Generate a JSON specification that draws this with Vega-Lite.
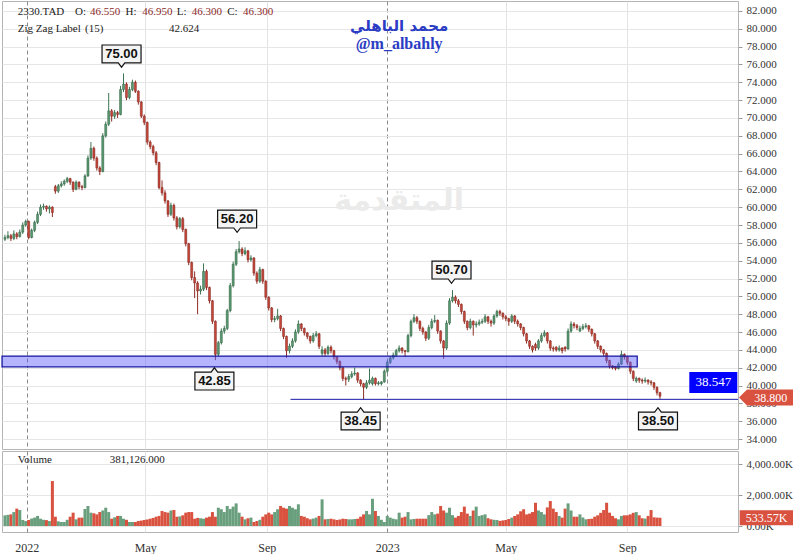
{
"$schema":"https://vega.github.io/schema/vega-lite/v6.json",
"padding":0,
"autosize":{"type":"pad"},
"background":"#ffffff",
"spacing":0,
"config":{"view":{"stroke":"#b4b4b4","strokeWidth":1},"axis":{"labelFont":"Liberation Serif","labelFontSize":11,"labelColor":"#333333"}},
"datasets":{"px":[
{"d":"2021-12-10","o":56.4,"h":56.9,"l":56.2,"c":56.6,"v":690},
{"d":"2021-12-13","o":56.6,"h":57.3,"l":56.4,"c":56.8,"v":720},
{"d":"2021-12-16","o":56.8,"h":57.0,"l":56.2,"c":56.5,"v":750},
{"d":"2021-12-19","o":56.5,"h":57.4,"l":56.3,"c":57.0,"v":900},
{"d":"2021-12-22","o":57.0,"h":57.2,"l":56.4,"c":56.7,"v":1120},
{"d":"2021-12-25","o":56.7,"h":57.5,"l":56.6,"c":57.2,"v":1030},
{"d":"2021-12-28","o":57.2,"h":58.3,"l":57.0,"c":58.0,"v":390},
{"d":"2021-12-31","o":58.0,"h":58.6,"l":57.8,"c":58.4,"v":320},
{"d":"2022-01-03","o":58.4,"h":58.5,"l":56.4,"c":56.6,"v":390},
{"d":"2022-01-06","o":56.6,"h":57.6,"l":56.5,"c":57.4,"v":480},
{"d":"2022-01-09","o":57.4,"h":58.5,"l":57.2,"c":58.3,"v":540},
{"d":"2022-01-12","o":58.3,"h":59.5,"l":58.1,"c":59.2,"v":650},
{"d":"2022-01-15","o":59.2,"h":60.3,"l":59.0,"c":60.0,"v":470},
{"d":"2022-01-18","o":60.0,"h":60.4,"l":59.7,"c":60.1,"v":400},
{"d":"2022-01-21","o":60.1,"h":60.2,"l":59.5,"c":59.8,"v":380},
{"d":"2022-01-24","o":59.8,"h":60.2,"l":59.3,"c":60.0,"v":320},
{"d":"2022-01-27","o":60.0,"h":60.1,"l":58.9,"c":59.4,"v":2900},
{"d":"2022-01-30","o":62.3,"h":62.5,"l":61.5,"c":61.8,"v":600},
{"d":"2022-02-02","o":61.8,"h":62.6,"l":61.6,"c":62.4,"v":300},
{"d":"2022-02-05","o":62.4,"h":62.9,"l":62.2,"c":62.6,"v":260},
{"d":"2022-02-08","o":62.6,"h":63.1,"l":62.4,"c":62.9,"v":260},
{"d":"2022-02-11","o":62.9,"h":63.4,"l":62.7,"c":63.2,"v":400},
{"d":"2022-02-14","o":63.2,"h":63.3,"l":62.5,"c":62.8,"v":600},
{"d":"2022-02-17","o":62.8,"h":62.9,"l":61.7,"c":62.0,"v":860},
{"d":"2022-02-20","o":62.0,"h":63.0,"l":61.9,"c":62.8,"v":430},
{"d":"2022-02-23","o":62.8,"h":62.9,"l":62.0,"c":62.3,"v":540},
{"d":"2022-02-26","o":62.3,"h":62.5,"l":61.9,"c":62.2,"v":540},
{"d":"2022-03-01","o":62.2,"h":63.7,"l":62.1,"c":63.5,"v":1100},
{"d":"2022-03-04","o":63.5,"h":65.8,"l":63.4,"c":65.5,"v":1290},
{"d":"2022-03-07","o":65.5,"h":67.3,"l":65.3,"c":66.6,"v":860},
{"d":"2022-03-10","o":66.6,"h":66.8,"l":65.2,"c":65.5,"v":820},
{"d":"2022-03-13","o":65.5,"h":65.7,"l":64.1,"c":64.4,"v":750},
{"d":"2022-03-16","o":64.4,"h":64.6,"l":63.6,"c":64.0,"v":900},
{"d":"2022-03-19","o":64.0,"h":68.3,"l":63.9,"c":68.0,"v":1000},
{"d":"2022-03-22","o":68.0,"h":69.6,"l":67.8,"c":69.3,"v":1180},
{"d":"2022-03-25","o":69.3,"h":72.8,"l":69.1,"c":70.8,"v":900},
{"d":"2022-03-28","o":70.8,"h":71.0,"l":69.6,"c":70.2,"v":470},
{"d":"2022-03-31","o":70.2,"h":70.9,"l":69.9,"c":70.6,"v":560},
{"d":"2022-04-03","o":70.6,"h":70.8,"l":70.0,"c":70.4,"v":650},
{"d":"2022-04-06","o":70.4,"h":73.6,"l":70.3,"c":73.2,"v":650},
{"d":"2022-04-09","o":73.2,"h":75.0,"l":72.9,"c":73.8,"v":470},
{"d":"2022-04-12","o":73.8,"h":74.0,"l":72.0,"c":72.3,"v":400},
{"d":"2022-04-15","o":72.3,"h":73.5,"l":72.1,"c":73.2,"v":260},
{"d":"2022-04-18","o":73.2,"h":74.3,"l":73.0,"c":74.0,"v":260},
{"d":"2022-04-21","o":74.0,"h":74.2,"l":72.8,"c":73.0,"v":260},
{"d":"2022-04-24","o":73.0,"h":73.1,"l":71.5,"c":71.8,"v":320},
{"d":"2022-04-27","o":71.8,"h":71.9,"l":70.0,"c":70.2,"v":350},
{"d":"2022-04-30","o":70.2,"h":70.4,"l":69.2,"c":69.5,"v":390},
{"d":"2022-05-03","o":69.5,"h":69.6,"l":67.0,"c":67.3,"v":420},
{"d":"2022-05-06","o":67.3,"h":67.5,"l":66.5,"c":66.8,"v":470},
{"d":"2022-05-09","o":66.8,"h":67.0,"l":65.8,"c":66.1,"v":520},
{"d":"2022-05-12","o":66.1,"h":66.3,"l":64.7,"c":65.0,"v":600},
{"d":"2022-05-15","o":65.0,"h":65.1,"l":62.0,"c":62.2,"v":650},
{"d":"2022-05-18","o":62.2,"h":63.0,"l":61.3,"c":61.6,"v":970},
{"d":"2022-05-21","o":61.6,"h":61.9,"l":60.4,"c":60.7,"v":900},
{"d":"2022-05-24","o":60.7,"h":60.8,"l":58.9,"c":59.2,"v":860},
{"d":"2022-05-27","o":59.2,"h":60.5,"l":59.0,"c":60.2,"v":1000},
{"d":"2022-05-30","o":60.2,"h":60.4,"l":58.5,"c":58.8,"v":1030},
{"d":"2022-06-02","o":58.8,"h":59.0,"l":57.5,"c":57.8,"v":600},
{"d":"2022-06-05","o":57.8,"h":58.9,"l":57.6,"c":58.7,"v":620},
{"d":"2022-06-08","o":58.7,"h":58.9,"l":57.2,"c":57.5,"v":690},
{"d":"2022-06-11","o":57.5,"h":57.6,"l":55.6,"c":55.9,"v":860},
{"d":"2022-06-14","o":55.9,"h":56.0,"l":53.5,"c":53.8,"v":900},
{"d":"2022-06-17","o":53.8,"h":53.9,"l":51.8,"c":52.1,"v":900},
{"d":"2022-06-20","o":52.1,"h":52.8,"l":49.8,"c":51.5,"v":470},
{"d":"2022-06-23","o":51.5,"h":51.7,"l":48.0,"c":50.6,"v":520},
{"d":"2022-06-26","o":50.6,"h":51.2,"l":50.2,"c":50.8,"v":500},
{"d":"2022-06-29","o":50.8,"h":53.7,"l":50.6,"c":52.8,"v":470},
{"d":"2022-07-02","o":52.8,"h":53.0,"l":50.7,"c":51.0,"v":540},
{"d":"2022-07-05","o":51.0,"h":51.1,"l":49.2,"c":49.5,"v":600},
{"d":"2022-07-08","o":49.5,"h":49.6,"l":46.9,"c":47.2,"v":900},
{"d":"2022-07-11","o":47.2,"h":47.3,"l":42.85,"c":43.5,"v":600},
{"d":"2022-07-14","o":43.5,"h":45.0,"l":43.3,"c":44.8,"v":1180},
{"d":"2022-07-17","o":44.8,"h":46.4,"l":44.6,"c":46.1,"v":1080},
{"d":"2022-07-20","o":46.1,"h":46.7,"l":45.8,"c":46.4,"v":900},
{"d":"2022-07-23","o":46.4,"h":48.6,"l":46.2,"c":48.4,"v":1290},
{"d":"2022-07-26","o":48.4,"h":51.5,"l":48.2,"c":51.2,"v":1100},
{"d":"2022-07-29","o":51.2,"h":53.9,"l":51.0,"c":53.6,"v":1250},
{"d":"2022-08-01","o":53.6,"h":55.3,"l":53.4,"c":55.0,"v":1460},
{"d":"2022-08-04","o":55.0,"h":56.2,"l":54.8,"c":55.3,"v":860},
{"d":"2022-08-07","o":55.3,"h":55.5,"l":54.5,"c":54.8,"v":600},
{"d":"2022-08-10","o":54.8,"h":55.5,"l":54.6,"c":55.1,"v":430},
{"d":"2022-08-13","o":55.1,"h":55.2,"l":53.8,"c":54.1,"v":500},
{"d":"2022-08-16","o":54.1,"h":54.6,"l":53.9,"c":54.3,"v":540},
{"d":"2022-08-19","o":54.3,"h":54.4,"l":52.3,"c":52.6,"v":260},
{"d":"2022-08-22","o":52.6,"h":52.8,"l":51.4,"c":51.7,"v":320},
{"d":"2022-08-25","o":51.7,"h":53.3,"l":51.5,"c":53.0,"v":400},
{"d":"2022-08-28","o":53.0,"h":53.1,"l":51.4,"c":51.7,"v":600},
{"d":"2022-08-31","o":51.7,"h":51.8,"l":49.6,"c":49.9,"v":750},
{"d":"2022-09-03","o":49.9,"h":50.0,"l":48.4,"c":48.7,"v":860},
{"d":"2022-09-06","o":48.7,"h":48.8,"l":47.1,"c":47.4,"v":750},
{"d":"2022-09-09","o":47.4,"h":47.8,"l":47.1,"c":47.5,"v":900},
{"d":"2022-09-12","o":47.5,"h":48.6,"l":47.3,"c":47.8,"v":1080},
{"d":"2022-09-15","o":47.8,"h":47.9,"l":46.1,"c":46.4,"v":1290},
{"d":"2022-09-18","o":46.4,"h":46.5,"l":45.2,"c":45.5,"v":1180},
{"d":"2022-09-21","o":45.5,"h":45.6,"l":43.1,"c":43.9,"v":1120},
{"d":"2022-09-24","o":43.9,"h":44.7,"l":43.6,"c":44.4,"v":1290},
{"d":"2022-09-27","o":44.4,"h":45.3,"l":44.2,"c":45.0,"v":1180},
{"d":"2022-09-30","o":45.0,"h":46.3,"l":44.8,"c":46.0,"v":1080},
{"d":"2022-10-03","o":46.0,"h":47.3,"l":45.8,"c":46.9,"v":1400},
{"d":"2022-10-06","o":46.9,"h":47.0,"l":46.1,"c":46.4,"v":650},
{"d":"2022-10-09","o":46.4,"h":46.5,"l":45.6,"c":45.9,"v":600},
{"d":"2022-10-12","o":45.9,"h":46.0,"l":45.2,"c":45.5,"v":500},
{"d":"2022-10-15","o":45.5,"h":45.6,"l":44.7,"c":45.0,"v":430},
{"d":"2022-10-18","o":45.0,"h":45.9,"l":44.8,"c":45.6,"v":480},
{"d":"2022-10-21","o":45.6,"h":46.1,"l":45.4,"c":45.8,"v":540},
{"d":"2022-10-24","o":45.8,"h":45.9,"l":44.1,"c":44.4,"v":650},
{"d":"2022-10-27","o":43.6,"h":44.4,"l":43.3,"c":44.0,"v":1720},
{"d":"2022-10-30","o":44.0,"h":44.2,"l":43.3,"c":43.6,"v":430},
{"d":"2022-11-02","o":43.6,"h":44.5,"l":43.4,"c":44.3,"v":450},
{"d":"2022-11-05","o":44.3,"h":44.5,"l":43.6,"c":43.9,"v":470},
{"d":"2022-11-08","o":43.9,"h":44.0,"l":42.9,"c":43.2,"v":430},
{"d":"2022-11-11","o":43.2,"h":43.3,"l":42.4,"c":42.7,"v":390},
{"d":"2022-11-14","o":42.7,"h":42.8,"l":41.7,"c":42.0,"v":420},
{"d":"2022-11-17","o":42.0,"h":42.1,"l":40.5,"c":40.8,"v":470},
{"d":"2022-11-20","o":40.8,"h":41.0,"l":40.0,"c":40.7,"v":450},
{"d":"2022-11-23","o":40.7,"h":41.3,"l":40.4,"c":41.0,"v":430},
{"d":"2022-11-26","o":41.0,"h":41.6,"l":40.8,"c":41.3,"v":430},
{"d":"2022-11-29","o":41.3,"h":42.0,"l":41.1,"c":41.4,"v":450},
{"d":"2022-12-02","o":41.4,"h":41.5,"l":40.3,"c":40.6,"v":470},
{"d":"2022-12-05","o":40.6,"h":40.7,"l":39.9,"c":40.2,"v":600},
{"d":"2022-12-08","o":40.2,"h":40.3,"l":38.45,"c":39.8,"v":750},
{"d":"2022-12-11","o":39.8,"h":40.6,"l":39.6,"c":40.3,"v":970},
{"d":"2022-12-14","o":40.3,"h":41.9,"l":40.1,"c":40.6,"v":750},
{"d":"2022-12-17","o":40.2,"h":41.0,"l":40.0,"c":40.8,"v":1760},
{"d":"2022-12-20","o":40.8,"h":40.9,"l":40.0,"c":40.2,"v":970},
{"d":"2022-12-23","o":40.2,"h":40.5,"l":40.0,"c":40.3,"v":650},
{"d":"2022-12-26","o":40.2,"h":40.5,"l":40.0,"c":40.4,"v":400},
{"d":"2022-12-29","o":40.4,"h":41.8,"l":40.3,"c":41.6,"v":260},
{"d":"2023-01-01","o":41.6,"h":42.8,"l":41.4,"c":42.6,"v":650},
{"d":"2023-01-04","o":42.6,"h":43.3,"l":42.4,"c":43.1,"v":540},
{"d":"2023-01-07","o":43.1,"h":43.7,"l":42.9,"c":43.4,"v":470},
{"d":"2023-01-10","o":43.4,"h":44.1,"l":43.2,"c":43.9,"v":430},
{"d":"2023-01-13","o":43.9,"h":44.5,"l":43.7,"c":44.2,"v":860},
{"d":"2023-01-16","o":44.2,"h":44.3,"l":43.6,"c":43.9,"v":540},
{"d":"2023-01-19","o":43.9,"h":44.0,"l":43.2,"c":43.8,"v":600},
{"d":"2023-01-22","o":43.8,"h":45.8,"l":43.7,"c":45.6,"v":900},
{"d":"2023-01-25","o":45.6,"h":47.4,"l":45.4,"c":47.2,"v":430},
{"d":"2023-01-28","o":47.2,"h":48.0,"l":47.0,"c":47.6,"v":450},
{"d":"2023-01-31","o":47.6,"h":47.8,"l":46.9,"c":47.2,"v":470},
{"d":"2023-02-03","o":47.2,"h":47.3,"l":46.1,"c":46.4,"v":470},
{"d":"2023-02-06","o":46.4,"h":46.6,"l":45.7,"c":46.0,"v":470},
{"d":"2023-02-09","o":46.0,"h":46.1,"l":45.0,"c":45.3,"v":470},
{"d":"2023-02-12","o":45.3,"h":46.8,"l":45.1,"c":46.5,"v":700},
{"d":"2023-02-15","o":46.5,"h":47.5,"l":46.3,"c":47.2,"v":900},
{"d":"2023-02-18","o":47.2,"h":47.9,"l":47.0,"c":47.3,"v":750},
{"d":"2023-02-21","o":47.3,"h":47.4,"l":45.8,"c":46.1,"v":800},
{"d":"2023-02-24","o":46.1,"h":46.2,"l":44.7,"c":45.0,"v":1290},
{"d":"2023-02-27","o":45.0,"h":45.1,"l":43.0,"c":44.2,"v":1000},
{"d":"2023-03-02","o":44.2,"h":47.3,"l":44.0,"c":47.0,"v":860},
{"d":"2023-03-05","o":47.0,"h":49.8,"l":46.8,"c":49.5,"v":1180},
{"d":"2023-03-08","o":49.5,"h":50.7,"l":49.3,"c":49.9,"v":700},
{"d":"2023-03-11","o":49.9,"h":50.1,"l":49.2,"c":49.5,"v":540},
{"d":"2023-03-14","o":49.5,"h":49.7,"l":48.8,"c":49.1,"v":650},
{"d":"2023-03-17","o":49.1,"h":49.2,"l":48.0,"c":48.3,"v":900},
{"d":"2023-03-20","o":48.3,"h":48.4,"l":46.9,"c":47.2,"v":1250},
{"d":"2023-03-23","o":47.2,"h":47.3,"l":46.2,"c":46.5,"v":800},
{"d":"2023-03-26","o":46.5,"h":47.5,"l":46.3,"c":47.2,"v":650},
{"d":"2023-03-29","o":47.2,"h":47.3,"l":45.6,"c":46.8,"v":1000},
{"d":"2023-04-01","o":46.8,"h":47.2,"l":46.5,"c":46.9,"v":1250},
{"d":"2023-04-04","o":46.9,"h":47.4,"l":46.7,"c":47.1,"v":650},
{"d":"2023-04-07","o":47.1,"h":47.5,"l":46.9,"c":47.2,"v":700},
{"d":"2023-04-10","o":47.2,"h":48.0,"l":47.0,"c":47.7,"v":750},
{"d":"2023-04-13","o":47.7,"h":47.8,"l":46.9,"c":47.2,"v":500},
{"d":"2023-04-16","o":47.2,"h":47.4,"l":46.6,"c":47.0,"v":430},
{"d":"2023-04-19","o":47.0,"h":48.0,"l":46.8,"c":47.8,"v":400},
{"d":"2023-04-22","o":47.8,"h":48.5,"l":47.6,"c":48.3,"v":390},
{"d":"2023-04-25","o":48.3,"h":48.5,"l":47.8,"c":48.1,"v":330},
{"d":"2023-04-28","o":48.1,"h":48.2,"l":47.4,"c":47.7,"v":360},
{"d":"2023-05-01","o":47.7,"h":47.9,"l":47.2,"c":47.5,"v":390},
{"d":"2023-05-04","o":47.5,"h":47.6,"l":46.7,"c":47.2,"v":450},
{"d":"2023-05-07","o":47.2,"h":48.0,"l":47.0,"c":47.8,"v":540},
{"d":"2023-05-10","o":47.8,"h":47.9,"l":46.9,"c":47.2,"v":650},
{"d":"2023-05-13","o":47.2,"h":47.4,"l":46.6,"c":46.9,"v":750},
{"d":"2023-05-16","o":46.9,"h":47.0,"l":46.2,"c":46.5,"v":950},
{"d":"2023-05-19","o":46.5,"h":46.6,"l":45.5,"c":45.8,"v":1080},
{"d":"2023-05-22","o":45.8,"h":45.9,"l":44.7,"c":45.0,"v":750},
{"d":"2023-05-25","o":45.0,"h":45.1,"l":44.1,"c":44.4,"v":800},
{"d":"2023-05-28","o":44.4,"h":44.5,"l":43.7,"c":44.0,"v":900},
{"d":"2023-05-31","o":44.6,"h":44.8,"l":43.9,"c":44.2,"v":1500},
{"d":"2023-06-03","o":44.2,"h":45.2,"l":44.0,"c":45.0,"v":1000},
{"d":"2023-06-06","o":45.0,"h":45.9,"l":44.8,"c":45.6,"v":900},
{"d":"2023-06-09","o":45.6,"h":46.2,"l":45.4,"c":45.9,"v":750},
{"d":"2023-06-12","o":45.9,"h":46.0,"l":44.7,"c":45.0,"v":1200},
{"d":"2023-06-15","o":45.0,"h":45.1,"l":43.9,"c":44.2,"v":1610},
{"d":"2023-06-18","o":44.2,"h":44.4,"l":43.8,"c":44.1,"v":1120},
{"d":"2023-06-21","o":44.3,"h":44.4,"l":43.8,"c":44.0,"v":900},
{"d":"2023-06-24","o":44.0,"h":44.5,"l":43.8,"c":44.2,"v":650},
{"d":"2023-06-27","o":44.2,"h":44.3,"l":43.6,"c":43.9,"v":540},
{"d":"2023-06-30","o":44.3,"h":44.4,"l":43.8,"c":44.1,"v":1120},
{"d":"2023-07-03","o":44.1,"h":46.4,"l":44.0,"c":46.1,"v":1460},
{"d":"2023-07-06","o":46.1,"h":47.2,"l":45.9,"c":46.9,"v":1000},
{"d":"2023-07-09","o":46.9,"h":47.1,"l":46.4,"c":46.7,"v":600},
{"d":"2023-07-12","o":46.7,"h":46.9,"l":46.2,"c":46.5,"v":600},
{"d":"2023-07-15","o":46.1,"h":46.7,"l":46.0,"c":46.4,"v":750},
{"d":"2023-07-18","o":46.4,"h":46.9,"l":46.2,"c":46.6,"v":550},
{"d":"2023-07-21","o":46.6,"h":47.0,"l":46.4,"c":46.7,"v":430},
{"d":"2023-07-24","o":46.7,"h":46.8,"l":46.0,"c":46.3,"v":450},
{"d":"2023-07-27","o":46.3,"h":46.4,"l":45.5,"c":45.8,"v":470},
{"d":"2023-07-30","o":45.8,"h":45.9,"l":44.7,"c":45.0,"v":600},
{"d":"2023-08-02","o":45.0,"h":45.1,"l":44.1,"c":44.4,"v":690},
{"d":"2023-08-05","o":44.4,"h":44.5,"l":43.7,"c":44.0,"v":850},
{"d":"2023-08-08","o":44.0,"h":44.1,"l":43.3,"c":43.6,"v":1030},
{"d":"2023-08-11","o":43.6,"h":43.7,"l":42.5,"c":42.8,"v":1500},
{"d":"2023-08-14","o":42.8,"h":42.9,"l":41.9,"c":42.2,"v":860},
{"d":"2023-08-17","o":42.2,"h":42.3,"l":41.8,"c":42.0,"v":650},
{"d":"2023-08-20","o":42.1,"h":42.2,"l":41.7,"c":41.9,"v":500},
{"d":"2023-08-23","o":41.9,"h":42.6,"l":41.8,"c":42.4,"v":430},
{"d":"2023-08-26","o":42.4,"h":43.9,"l":42.3,"c":43.5,"v":650},
{"d":"2023-08-29","o":43.5,"h":43.6,"l":42.9,"c":43.2,"v":690},
{"d":"2023-09-01","o":43.2,"h":43.3,"l":42.3,"c":42.6,"v":690},
{"d":"2023-09-04","o":42.6,"h":42.7,"l":41.3,"c":41.6,"v":750},
{"d":"2023-09-07","o":41.6,"h":41.7,"l":40.5,"c":40.8,"v":850},
{"d":"2023-09-10","o":40.5,"h":41.0,"l":40.3,"c":40.8,"v":900},
{"d":"2023-09-13","o":40.8,"h":40.9,"l":40.3,"c":40.6,"v":690},
{"d":"2023-09-16","o":40.6,"h":40.8,"l":40.2,"c":40.5,"v":500},
{"d":"2023-09-19","o":40.5,"h":40.9,"l":40.3,"c":40.6,"v":480},
{"d":"2023-09-22","o":40.6,"h":40.7,"l":40.1,"c":40.4,"v":650},
{"d":"2023-09-25","o":40.4,"h":40.6,"l":40.0,"c":40.3,"v":1030},
{"d":"2023-09-28","o":40.3,"h":40.4,"l":39.5,"c":39.8,"v":560},
{"d":"2023-10-01","o":39.8,"h":39.9,"l":38.9,"c":39.2,"v":540},
{"d":"2023-10-04","o":39.2,"h":39.3,"l":38.5,"c":38.8,"v":534}
]},
"vconcat":[
{
"width":736,"height":448,
"layer":[
{"data":{"values":[{"t":"المتقدمة","d":"2023-01-13","p":60.7}]},
 "mark":{"type":"text","font":"DejaVu Sans","fontWeight":"bold","fontSize":30,"color":"#ebebeb"},
 "encoding":{
  "x":{"field":"d","type":"temporal","title":null,
   "scale":{"domain":[{"year":2021,"month":12,"date":7,"utc":true},{"year":2023,"month":12,"date":22,"utc":true}],"nice":false,"padding":0},
   "axis":{"orient":"bottom","labels":false,"ticks":false,"domain":false,"title":null,"grid":true,"minExtent":0,"maxExtent":0,"tickCount":20,
    "values":[{"year":2022,"month":1,"date":1,"utc":true},{"year":2022,"month":5,"date":1,"utc":true},{"year":2022,"month":9,"date":1,"utc":true},{"year":2023,"month":1,"date":1,"utc":true},{"year":2023,"month":5,"date":1,"utc":true},{"year":2023,"month":9,"date":1,"utc":true}],
    "gridColor":{"condition":{"test":"utcmonth(datum.value)==0","value":"#8a8a8a"},"value":"#e3e3e3"},
    "gridDash":{"condition":{"test":"utcmonth(datum.value)==0","value":[4,3]},"value":[]}}},
  "y":{"field":"p","type":"quantitative","title":null,
   "scale":{"domain":[32.88,83.12],"nice":false,"zero":false},
   "axis":{"orient":"right","title":null,"tickCount":60,"labelOverlap":false,"values":[34,36,38,40,42,44,46,48,50,52,54,56,58,60,62,64,66,68,70,72,74,76,78,80,82],"format":".3f","grid":true,"gridColor":"#e6e6e6","tickColor":"#999999","tickSize":4,"labelPadding":4,"domain":false}},
  "text":{"field":"t"}}},
{"data":{"name":"px"},"mark":{"type":"rule","strokeWidth":1},
 "encoding":{"x":{"field":"d","type":"temporal","title":null},"y":{"field":"l","type":"quantitative","title":null},"y2":{"field":"h"},
  "color":{"condition":{"test":"datum.c >= datum.o","value":"#3d7352"},"value":"#8e2d24"}}},
{"data":{"name":"px"},"mark":{"type":"bar","size":2,"strokeWidth":0.5},
 "encoding":{"x":{"field":"d","type":"temporal","title":null},"y":{"field":"o","type":"quantitative","title":null},"y2":{"field":"c"},
  "fill":{"condition":{"test":"datum.c >= datum.o","value":"#5a9a70"},"value":"#c9463a"},
  "stroke":{"condition":{"test":"datum.c >= datum.o","value":"#2f5e40"},"value":"#7a241c"}}},
{"data":{"values":[{"d1":"2021-12-07","d2":"2023-09-11","p1":42.1,"p2":43.3}]},
 "mark":{"type":"rect","fill":"#5c5cff","fillOpacity":0.45,"stroke":"#1414a0","strokeWidth":1.2},
 "encoding":{"x":{"field":"d1","type":"temporal","title":null},"x2":{"field":"d2"},"y":{"field":"p1","type":"quantitative","title":null},"y2":{"field":"p2"}}},
{"data":{"values":[{"d1":"2022-09-25","d2":"2023-12-22","p":38.45}]},
 "mark":{"type":"rule","color":"#1a1aa8","strokeWidth":1},
 "encoding":{"x":{"field":"d1","type":"temporal","title":null},"x2":{"field":"d2"},"y":{"field":"p","type":"quantitative","title":null}}},
{"data":{"values":[
  {"d":"2022-04-07","p":77.18,"t":"75.00","side":"peak"},
  {"d":"2022-08-02","p":58.67,"t":"56.20","side":"peak"},
  {"d":"2023-03-07","p":52.95,"t":"50.70","side":"peak"},
  {"d":"2022-07-10","p":40.5,"t":"42.85","side":"trough"},
  {"d":"2022-12-05","p":36.02,"t":"38.45","side":"trough"},
  {"d":"2023-10-02","p":36.02,"t":"38.50","side":"trough"}]},
 "layer":[
  {"transform":[{"filter":"datum.side == 'peak'"}],
   "mark":{"type":"point","filled":true,"fill":"#f4f4f4","stroke":"#111111","strokeWidth":1.2,"opacity":1,"size":1521,
    "shape":"M-1,-0.46L1,-0.46L1,0.46L0.17,0.46L0,0.68L-0.17,0.46L-1,0.46Z"},
   "encoding":{"x":{"field":"d","type":"temporal","title":null},"y":{"field":"p","type":"quantitative","title":null}}},
  {"transform":[{"filter":"datum.side == 'trough'"}],
   "mark":{"type":"point","filled":true,"fill":"#f4f4f4","stroke":"#111111","strokeWidth":1.2,"opacity":1,"size":1521,
    "shape":"M-1,0.46L1,0.46L1,-0.46L0.17,-0.46L0,-0.68L-0.17,-0.46L-1,-0.46Z"},
   "encoding":{"x":{"field":"d","type":"temporal","title":null},"y":{"field":"p","type":"quantitative","title":null}}},
  {"mark":{"type":"text","font":"Liberation Sans","fontWeight":"bold","fontSize":13,"color":"#111111","baseline":"middle"},
   "encoding":{"x":{"field":"d","type":"temporal","title":null},"y":{"field":"p","type":"quantitative","title":null},"text":{"field":"t"}}}
 ]},
{"data":{"values":[
  {"d":"2021-12-23","p":81.92,"t":"2330.TAD","k":"label"},
  {"d":"2022-02-19","p":81.92,"t":"O:","k":"label"},
  {"d":"2022-03-06","p":81.92,"t":"46.550","k":"value"},
  {"d":"2022-04-11","p":81.92,"t":"H:","k":"label"},
  {"d":"2022-04-28","p":81.92,"t":"46.950","k":"value"},
  {"d":"2022-06-02","p":81.92,"t":"L:","k":"label"},
  {"d":"2022-06-17","p":81.92,"t":"46.300","k":"value"},
  {"d":"2022-07-23","p":81.92,"t":"C:","k":"label"},
  {"d":"2022-08-08","p":81.92,"t":"46.300","k":"value"},
  {"d":"2021-12-23","p":80.0,"t":"Zig Zag Label","k":"label"},
  {"d":"2022-03-01","p":80.0,"t":"(15)","k":"label"},
  {"d":"2022-05-25","p":80.0,"t":"42.624","k":"label"}]},
 "mark":{"type":"text","font":"Liberation Serif","fontSize":11,"align":"left","baseline":"middle"},
 "encoding":{"x":{"field":"d","type":"temporal","title":null},"y":{"field":"p","type":"quantitative","title":null},"text":{"field":"t"},
  "color":{"field":"k","type":"nominal","legend":null,"scale":{"domain":["label","value"],"range":["#222222","#8b2a2a"]}}}},
{"data":{"values":[{"d":"2023-01-13","p":80.32,"t":"محمد الباهلي"}]},
 "mark":{"type":"text","font":"DejaVu Sans","fontWeight":"bold","fontSize":15,"color":"#2b3cc4","baseline":"middle"},
 "encoding":{"x":{"field":"d","type":"temporal","title":null},"y":{"field":"p","type":"quantitative","title":null},"text":{"field":"t"}}},
{"data":{"values":[{"d":"2023-01-13","p":78.3,"t":"@m_albahly"}]},
 "mark":{"type":"text","font":"Liberation Serif","fontWeight":"bold","fontSize":16,"color":"#2b3cc4","baseline":"middle"},
 "encoding":{"x":{"field":"d","type":"temporal","title":null},"y":{"field":"p","type":"quantitative","title":null},"text":{"field":"t"}}},
{"data":{"values":[{"d":"2023-11-27","p":40.34,"t":"38.547"}]},
 "layer":[
  {"mark":{"type":"point","filled":true,"fill":"#0000ff","opacity":1,"size":2304,"shape":"M-1,-0.44L1,-0.44L1,0.44L-1,0.44Z"},
   "encoding":{"x":{"field":"d","type":"temporal","title":null},"y":{"field":"p","type":"quantitative","title":null}}},
  {"mark":{"type":"text","font":"Liberation Serif","fontSize":13,"color":"#ffffff","baseline":"middle"},
   "encoding":{"x":{"field":"d","type":"temporal","title":null},"y":{"field":"p","type":"quantitative","title":null},"text":{"field":"t"}}}
 ]},
{"data":{"values":[{"d":"2024-01-22","p":38.65,"t":"38.800"}]},
 "layer":[
  {"mark":{"type":"point","filled":true,"fill":"#d9513f","opacity":1,"size":2704,"shape":"M-0.83,-0.31L0.98,-0.31L0.98,0.31L-0.83,0.31L-1.14,0Z"},
   "encoding":{"x":{"field":"d","type":"temporal","title":null},"y":{"field":"p","type":"quantitative","title":null}}},
  {"mark":{"type":"text","font":"Liberation Serif","fontSize":12,"color":"#ffffff","baseline":"middle","dx":2},
   "encoding":{"x":{"field":"d","type":"temporal","title":null},"y":{"field":"p","type":"quantitative","title":null},"text":{"field":"t"}}}
 ]}
]
},
{
"width":736,"height":81,
"layer":[
{"data":{"name":"px"},"mark":{"type":"bar","size":3},
 "encoding":{
  "x":{"field":"d","type":"temporal","title":null,
   "scale":{"domain":[{"year":2021,"month":12,"date":7,"utc":true},{"year":2023,"month":12,"date":22,"utc":true}],"nice":false,"padding":0},
   "axis":{"orient":"bottom","title":null,"ticks":false,"domain":false,"labelPadding":10,"labelFontSize":12,"labelColor":"#333333","grid":true,"tickCount":20,
    "values":[{"year":2022,"month":1,"date":1,"utc":true},{"year":2022,"month":5,"date":1,"utc":true},{"year":2022,"month":9,"date":1,"utc":true},{"year":2023,"month":1,"date":1,"utc":true},{"year":2023,"month":5,"date":1,"utc":true},{"year":2023,"month":9,"date":1,"utc":true}],
    "labelExpr":"utcmonth(datum.value)==0 ? utcFormat(datum.value,'%Y') : utcFormat(datum.value,'%b')",
    "gridColor":{"condition":{"test":"utcmonth(datum.value)==0","value":"#8a8a8a"},"value":"#e3e3e3"},
    "gridDash":{"condition":{"test":"utcmonth(datum.value)==0","value":[4,3]},"value":[]}}},
  "y":{"field":"v","type":"quantitative","title":null,
   "scale":{"domain":[-387,4839],"nice":false,"zero":false},
   "axis":{"orient":"right","title":null,"tickCount":10,"labelOverlap":false,"values":[0,2000,4000],"labelExpr":"format(datum.value, ',.2f') + 'K'","grid":true,"gridColor":"#e6e6e6","tickColor":"#999999","tickSize":4,"labelPadding":4,"domain":false}},
  "y2":{"datum":0},
  "color":{"condition":{"test":"datum.c >= datum.o","value":"#6a9f7e"},"value":"#d9513f"}}},
{"data":{"values":[{"d":"2021-12-23","v":4258,"t":"Volume"},{"d":"2022-03-26","v":4258,"t":"381,126.000"}]},
 "mark":{"type":"text","font":"Liberation Serif","fontSize":11,"align":"left","baseline":"middle","color":"#222222"},
 "encoding":{"x":{"field":"d","type":"temporal","title":null},"y":{"field":"v","type":"quantitative","title":null},"text":{"field":"t"}}},
{"data":{"values":[{"d":"2024-01-20","v":533.57,"t":"533.57K"}]},
 "layer":[
  {"mark":{"type":"point","filled":true,"fill":"#d9513f","opacity":1,"size":2916,"shape":"M-1,-0.28L1,-0.28L1,0.28L-1,0.28Z"},
   "encoding":{"x":{"field":"d","type":"temporal","title":null},"y":{"field":"v","type":"quantitative","title":null}}},
  {"mark":{"type":"text","font":"Liberation Serif","fontSize":12,"color":"#ffffff","baseline":"middle"},
   "encoding":{"x":{"field":"d","type":"temporal","title":null},"y":{"field":"v","type":"quantitative","title":null},"text":{"field":"t"}}}
 ]}
]
}
]
}
